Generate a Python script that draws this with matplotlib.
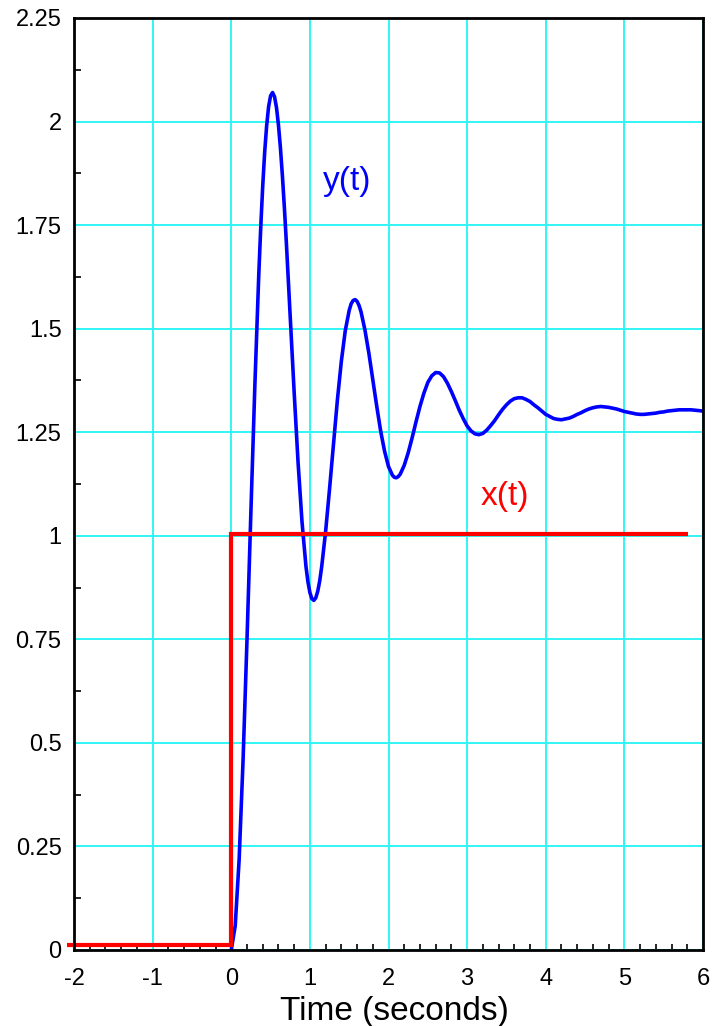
import matplotlib
matplotlib.use("Agg")
import matplotlib.pyplot as plt

# output y(t) (denser around the sharp extrema)
t_y = [0.00, 0.05, 0.10, 0.15, 0.20, 0.25, 0.30, 0.35, 0.375, 0.40,
       0.425, 0.45, 0.475, 0.50, 0.525, 0.55, 0.575, 0.60, 0.625, 0.65,
       0.675, 0.70, 0.75, 0.80, 0.85, 0.90, 0.95, 0.975, 1.00, 1.025,
       1.05, 1.075, 1.10, 1.125, 1.15, 1.20, 1.25, 1.30, 1.35, 1.40,
       1.45, 1.50, 1.525, 1.55, 1.575, 1.60, 1.625, 1.65, 1.70, 1.75,
       1.80, 1.85, 1.90, 1.95, 2.00, 2.05, 2.075, 2.10, 2.125, 2.15,
       2.20, 2.25, 2.30, 2.35, 2.40, 2.45,
       2.50, 2.55, 2.60, 2.65, 2.70, 2.75, 2.80, 2.85, 2.90, 2.95,
       3.00, 3.05, 3.10, 3.15, 3.20, 3.25, 3.30, 3.35, 3.40, 3.45,
       3.50, 3.55, 3.60, 3.65, 3.70, 3.75, 3.80, 3.85, 3.90, 3.95,
       4.00, 4.05, 4.10, 4.15, 4.20, 4.25, 4.30, 4.35, 4.40, 4.45,
       4.50, 4.55, 4.60, 4.65, 4.70, 4.75, 4.80, 4.85, 4.90, 4.95,
       5.00, 5.05, 5.10, 5.15, 5.20, 5.25, 5.30, 5.35, 5.40, 5.45,
       5.50, 5.55, 5.60, 5.65, 5.70, 5.75, 5.80, 5.85, 5.90, 5.95, 6.00]
y_vals = [0.000, 0.058, 0.218, 0.458, 0.749, 1.060, 1.362, 1.631, 1.745, 1.844,
          1.926, 1.990, 2.036, 2.062, 2.070, 2.060, 2.034, 1.992, 1.937, 1.870,
          1.794, 1.710, 1.529, 1.346, 1.176, 1.033, 0.926, 0.889, 0.863, 0.848,
          0.844, 0.850, 0.866, 0.891, 0.925, 1.010, 1.113, 1.222, 1.328, 1.421,
          1.495, 1.544, 1.560, 1.568, 1.570, 1.566, 1.556, 1.541, 1.497, 1.441,
          1.377, 1.313, 1.253, 1.204, 1.167, 1.146, 1.141, 1.140, 1.143, 1.149,
          1.170, 1.200, 1.236, 1.275, 1.312, 1.344,
          1.370, 1.386, 1.394, 1.393, 1.384, 1.368, 1.348, 1.326, 1.303, 1.283,
          1.265, 1.253, 1.246, 1.244, 1.247, 1.255, 1.266, 1.278, 1.292, 1.305,
          1.316, 1.325, 1.331, 1.333, 1.333, 1.329, 1.324, 1.316, 1.309, 1.301,
          1.293, 1.288, 1.283, 1.281, 1.280, 1.282, 1.284, 1.288, 1.293, 1.297,
          1.302, 1.306, 1.309, 1.311, 1.312, 1.311, 1.310, 1.308, 1.306, 1.303,
          1.300, 1.298, 1.296, 1.294, 1.293, 1.293, 1.294, 1.295, 1.296, 1.298,
          1.299, 1.301, 1.302, 1.303, 1.304, 1.304, 1.304, 1.304, 1.303, 1.302, 1.301]

# input step x(t)
t_x = [-2.09, 0.0, 0.0, 5.81]
x_vals = [0.011, 0.011, 1.004, 1.004]

x_ticks = [-2, -1, 0, 1, 2, 3, 4, 5, 6]
y_ticks = [0, 0.25, 0.5, 0.75, 1, 1.25, 1.5, 1.75, 2, 2.25]
y_ticklabels = ["0", "0.25", "0.5", "0.75", "1", "1.25", "1.5", "1.75", "2", "2.25"]

plt.rcParams['font.family'] = ['Liberation Sans', 'DejaVu Sans']

fig = plt.figure(figsize=(7.16, 10.26), dpi=100)
ax = fig.add_axes([0.1034, 0.0741, 0.8784, 0.9084])

ax.plot(t_y, y_vals, color='#0000ff', lw=2.6, zorder=3, solid_joinstyle='round')
ax.plot(t_x, x_vals, color='#ff0000', lw=3.0, zorder=4, clip_on=False,
        solid_joinstyle='miter', solid_capstyle='butt')

ax.text(1.17, 1.855, "y(t)", color='#0000ff', fontsize=24, va='center', ha='left')
ax.text(3.17, 1.094, "x(t)", color='#ff0000', fontsize=24, va='center', ha='left')

ax.set_xlim(-2, 6)
ax.set_ylim(0, 2.25)
ax.set_xticks(x_ticks)
ax.set_xticklabels([str(v) for v in x_ticks])
ax.set_yticks(y_ticks)
ax.set_yticklabels(y_ticklabels)
ax.set_xticks([v / 5 for v in range(-10, 31) if v % 5 != 0], minor=True)
ax.set_yticks([0.125 + 0.25 * i for i in range(9)], minor=True)

ax.grid(True, which='major', color='#30f5f5', lw=1.4)
ax.set_axisbelow(True)

ax.tick_params(which='major', length=0, labelsize=17)
ax.tick_params(axis='x', which='major', pad=13)
ax.tick_params(axis='y', which='major', pad=9)
ax.tick_params(which='minor', direction='in', length=5, width=1.2, color='black')
ax.tick_params(axis='x', which='minor', length=4)

for s in ax.spines.values():
    s.set_linewidth(2)
    s.set_zorder(5)

ax.set_xlabel("Time (seconds)", fontsize=24, labelpad=4)
ax.xaxis.label.set_x(0.5095)

fig.savefig("out.png")
